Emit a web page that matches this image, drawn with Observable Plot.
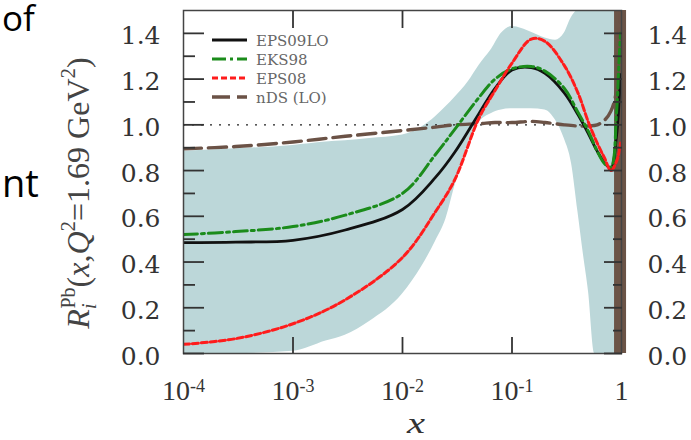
<!DOCTYPE html>
<html>
<head>
<meta charset="utf-8">
<script src="https://cdn.jsdelivr.net/npm/d3@7"></script>
<script src="https://cdn.jsdelivr.net/npm/@observablehq/plot@0.6"></script>
<style>
  body { margin: 0; background: #fff; }
  #chart { width: 691px; height: 440px; overflow: hidden; position: relative; }
</style>
</head>
<body>
<div id="chart"></div>
<script>
// ---------- data ----------
const curveX  = [1e-4, 3e-4, 1e-3, 3e-3, 0.01, 0.02, 0.03, 0.05, 0.07, 0.1, 0.15, 0.2, 0.3, 0.4, 0.5, 0.6, 0.7, 0.8, 0.9, 0.95, 0.98];
const eps09lo = [0.485, 0.487, 0.495, 0.54, 0.63, 0.77, 0.88, 1.05, 1.16, 1.24, 1.25, 1.225, 1.14, 1.045, 0.96, 0.885, 0.835, 0.81, 0.95, 1.1, 1.22];
const eks98   = [0.52, 0.533, 0.555, 0.605, 0.70, 0.87, 0.98, 1.12, 1.20, 1.245, 1.255, 1.235, 1.16, 1.055, 0.97, 0.885, 0.83, 0.815, 1.05, 1.28, 1.4];
const eps08   = [0.04, 0.065, 0.13, 0.235, 0.42, 0.62, 0.76, 1.03, 1.15, 1.27, 1.375, 1.365, 1.26, 1.14, 1.01, 0.92, 0.855, 0.80, 0.84, 0.88, 0.92];
const ndsLO   = [0.895, 0.905, 0.925, 0.95, 0.975, 0.99, 1.0, 1.005, 1.01, 1.01, 1.015, 1.01, 1.0, 0.995, 0.995, 1.0, 1.02, 1.06, 1.15, 1.4, 1.5];

const bandX     = [1e-4, 3e-4, 1e-3, 2e-3, 3e-3, 5e-3, 0.01, 0.015, 0.02, 0.025, 0.03, 0.04, 0.05, 0.065, 0.08, 0.1, 0.15, 0.2, 0.25, 0.3, 0.35, 0.4, 0.45, 0.5, 0.57, 0.65, 0.8, 1];
const bandUpper = [0.885, 0.895, 0.91, 0.925, 0.93, 0.94, 0.955, 0.99, 1.035, 1.08, 1.12, 1.19, 1.26, 1.33, 1.40, 1.43, 1.405, 1.38, 1.37, 1.40, 1.47, 1.5, 1.5, 1.5, 1.5, 1.5, 1.5, 1.5];
const bandLower = [0, 0, 0.01, 0.055, 0.08, 0.14, 0.26, 0.38, 0.49, 0.59, 0.73, 0.92, 1.01, 1.05, 1.065, 1.07, 1.07, 1.065, 1.02, 0.94, 0.83, 0.62, 0.43, 0.27, 0, 0, 0, 0];

const seriesNames   = ["EPS09LO", "EKS98", "EPS08", "nDS (LO)"];
const seriesValues  = [eps09lo, eks98, eps08, ndsLO];
const xTickValues   = [1e-4, 1e-3, 1e-2, 1e-1, 1];
const xTickLabels   = ["10^-4", "10^-3", "10^-2", "10^-1", "1"];
const xInnerTicks   = [1e-3, 1e-2, 1e-1];
const yMajorTicks   = [0, 0.2, 0.4, 0.6, 0.8, 1.0, 1.2, 1.4];
const yMinorTicks   = [0.1, 0.3, 0.5, 0.7, 0.9, 1.1, 1.3];
const referenceLine = [1.0];
const edgeBandX     = [0.97];
const yTitle        = ["R", "i", "Pb", "(", "x", ",", "Q", "2", "=1.69 GeV", "2", ")"];
const slideFragments = ["of", "nt"];

// ---------- styles ----------
const styles = [
  {stroke: "#111111", strokeWidth: 2.8, dash: null},
  {stroke: "#1b8c1b", strokeWidth: 3,   dash: "14,4,3,4"},
  {stroke: "#ff1c1c", strokeWidth: 3,   dash: "6,3"},
  {stroke: "#6b5246", strokeWidth: 3.4, dash: "18,7"}
];
const drawOrder = [3, 0, 1, 2];

const band = bandX.map((x, i) => ({x, lo: bandLower[i], hi: bandUpper[i]}));
const lineData = seriesValues.map(vals => curveX.map((x, i) => ({x, y: vals[i]})));

const tickStyle = {stroke: "#333", strokeWidth: 1.8};
const yLabelStyle = {fontFamily: "'DejaVu Serif', serif", fontSize: 25};

const chart = Plot.plot({
  width: 691,
  height: 440,
  marginLeft: 183,
  marginRight: 70,
  marginTop: 10,
  marginBottom: 87,
  x: {type: "log", domain: [1e-4, 1]},
  y: {domain: [0, 1.5]},
  style: {fontFamily: "'Liberation Serif', serif", fontSize: "28px", color: "#333", background: "transparent", overflow: "visible"},
  marks: [
    Plot.areaY(band, {x: "x", y1: "lo", y2: "hi", fill: "#bcd7d9", curve: "monotone-x"}),
    Plot.ruleX(edgeBandX, {stroke: "#6b5447", strokeWidth: 12}),
    Plot.ruleY(referenceLine, {stroke: "#222", strokeWidth: 1.3, strokeDasharray: "2,7"}),
    ...drawOrder.map(k => Plot.line(lineData[k], {
      x: "x", y: "y", curve: "catmull-rom", clip: true,
      stroke: styles[k].stroke, strokeWidth: styles[k].strokeWidth,
      strokeDasharray: styles[k].dash
    })),
    Plot.frame({stroke: "#444", strokeWidth: 1.5}),
    // inner ticks
    Plot.axisY({anchor: "left", ticks: yMajorTicks, tickSize: -21, tickFormat: () => "", label: null, ...tickStyle}),
    Plot.axisY({anchor: "left", ticks: yMinorTicks, tickSize: -12, tickFormat: () => "", label: null, ...tickStyle}),
    Plot.axisY({anchor: "right", ticks: yMajorTicks, tickSize: -18, tickFormat: () => "", label: null, ...tickStyle}),
    Plot.axisY({anchor: "right", ticks: yMinorTicks, tickSize: -9, tickFormat: () => "", label: null, ...tickStyle}),
    Plot.axisX({anchor: "bottom", ticks: xInnerTicks, tickSize: -16, tickFormat: () => "", label: null, ...tickStyle}),
    Plot.axisX({anchor: "top", ticks: xInnerTicks, tickSize: -17, tickFormat: () => "", label: null, ...tickStyle}),
    // tick labels
    Plot.axisY({anchor: "left", ticks: yMajorTicks, tickSize: 0, tickPadding: 23, tickFormat: d3.format(".1f"), label: null, dy: 3, ...yLabelStyle}),
    Plot.axisY({anchor: "right", ticks: yMajorTicks, tickSize: 0, tickPadding: 26, tickFormat: d3.format(".1f"), label: null, dy: 3, ...yLabelStyle}),
    Plot.axisX({anchor: "bottom", ticks: xTickValues, tickSize: 0, tickPadding: 27, label: null,
      tickFormat: d => xTickLabels[xTickValues.findIndex(v => Math.abs(Math.log10(v) - Math.log10(d)) < 1e-6)]})
  ]
});

document.getElementById("chart").appendChild(chart);
const svg = d3.select(chart);

// superscripts in x tick labels
svg.selectAll('g[aria-label="x-axis tick label"] text').each(function () {
  const t = this.textContent;
  const parts = t.split("^");
  if (parts.length === 2) {
    this.textContent = parts[0];
    d3.select(this).append("tspan").attr("dy", "-0.45em").attr("font-size", "18px").text(parts[1]);
  }
});

// legend inside the frame
seriesNames.forEach((name, i) => {
  const y = 40 + 19 * i;
  svg.append("line").attr("x1", 212).attr("x2", 247).attr("y1", y).attr("y2", y)
    .attr("stroke", styles[i].stroke).attr("stroke-width", styles[i].strokeWidth)
    .attr("stroke-dasharray", styles[i].dash);
  svg.append("text").attr("x", 256).attr("y", y + 6)
    .attr("text-anchor", "start")
    .style("font-family", "'DejaVu Serif', serif").style("font-size", "15px").style("fill", "#666")
    .text(name);
});

// y axis title
const yt = svg.append("text")
  .attr("transform", "translate(89,193) rotate(-90)")
  .attr("text-anchor", "middle")
  .style("font-family", "'Liberation Serif', serif")
  .style("font-size", "32px")
  .style("fill", "#444");
yt.append("tspan").attr("font-style", "italic").text(yTitle[0]);
yt.append("tspan").attr("font-style", "italic").attr("font-size", "20px").attr("dy", 7).text(yTitle[1]);
yt.append("tspan").attr("font-size", "20px").attr("dx", -5).attr("dy", -21).text(yTitle[2]);
yt.append("tspan").attr("dy", 14).text(yTitle[3]);
yt.append("tspan").attr("font-style", "italic").text(yTitle[4]);
yt.append("tspan").text(yTitle[5]);
yt.append("tspan").attr("font-style", "italic").text(yTitle[6]);
yt.append("tspan").attr("font-size", "21px").attr("dy", -14).text(yTitle[7]);
yt.append("tspan").attr("dy", 14).text(yTitle[8]);
yt.append("tspan").attr("font-size", "21px").attr("dy", -14).text(yTitle[9]);
yt.append("tspan").attr("dy", 14).text(yTitle[10]);

// x axis title
svg.append("text")
  .attr("transform", "translate(416,433) scale(1.35,1)")
  .attr("text-anchor", "middle")
  .style("font-family", "'Liberation Serif', serif")
  .style("font-style", "italic")
  .style("font-size", "30px")
  .style("fill", "#333")
  .text("x");

// slide text fragments at the left edge
slideFragments.forEach((s, i) => {
  svg.append("text").attr("x", 2).attr("y", i === 0 ? 31 : 197)
    .attr("text-anchor", "start")
    .style("font-family", "'Open Sans', sans-serif").style("font-size", i === 0 ? "35px" : "38px").style("fill", "#000")
    .text(s);
});
</script>
</body>
</html>
